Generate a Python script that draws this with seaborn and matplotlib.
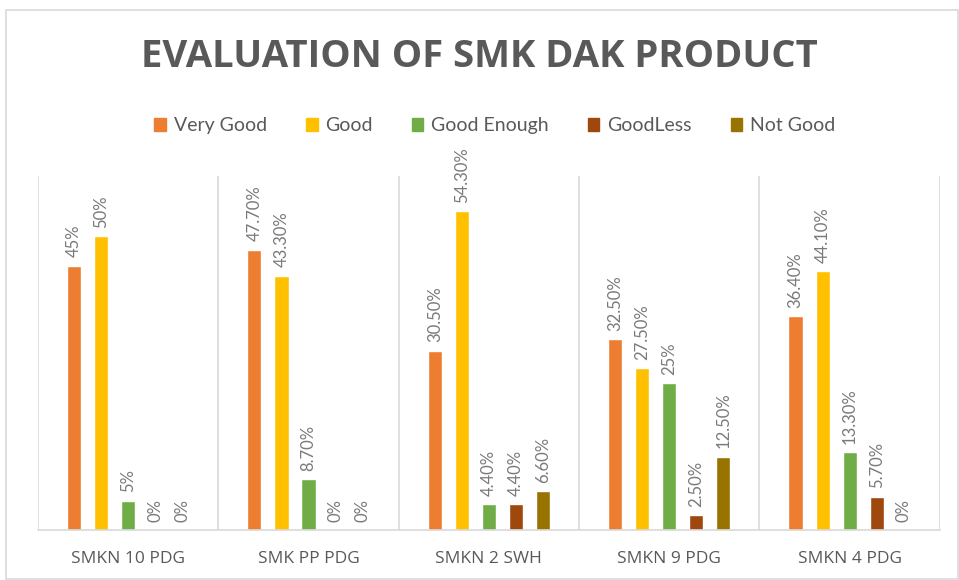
import pandas as pd
import numpy as np
import matplotlib.pyplot as plt
import seaborn as sns
from matplotlib.patches import Rectangle

#----------------------------------
# Data
#----------------------------------
schools = ["SMKN 10 PDG", "SMK PP PDG", "SMKN 2 SWH", "SMKN 9 PDG", "SMKN 4 PDG"]
ratings = ["Very Good", "Good", "Good Enough", "GoodLess", "Not Good"]

very_good   = [45.0, 47.7, 30.5, 32.5, 36.4]
good        = [50.0, 43.3, 54.3, 27.5, 44.1]
good_enough = [5.0, 8.7, 4.4, 25.0, 13.3]
good_less   = [0.0, 0.0, 4.4, 2.5, 5.7]
not_good    = [0.0, 0.0, 6.6, 12.5, 0.0]

label_very_good   = ["45%", "47.70%", "30.50%", "32.50%", "36.40%"]
label_good        = ["50%", "43.30%", "54.30%", "27.50%", "44.10%"]
label_good_enough = ["5%", "8.70%", "4.40%", "25%", "13.30%"]
label_good_less   = ["0%", "0%", "4.40%", "2.50%", "5.70%"]
label_not_good    = ["0%", "0%", "6.60%", "12.50%", "0%"]

colors = ["#ED7D31", "#FFC000", "#70AD47", "#9E480E", "#997300"]

series = [very_good, good, good_enough, good_less, not_good]
labels = [label_very_good, label_good, label_good_enough, label_good_less, label_not_good]

rows = []
for r, vals in zip(ratings, series):
    for s, v in zip(schools, vals):
        rows.append({"School": s, "Rating": r, "Value": v})
df = pd.DataFrame(rows)

#----------------------------------
# Plot
#----------------------------------
sns.set_style("white")
plt.rcParams['font.family'] = ['Lato', 'DejaVu Sans']
grey = "#595959"

fig = plt.figure(figsize=(9.59, 5.8), dpi=100)
ax = fig.add_axes([0.0396, 0.0862, 0.9404, 0.6104])

sns.barplot(data=df, x="School", y="Value", hue="Rating", hue_order=ratings,
            order=schools, palette=colors, width=0.75, gap=0.48,
            saturation=1, legend=False, ax=ax)

for cont, lab in zip(ax.containers, labels):
    ax.bar_label(cont, labels=lab, rotation=90, padding=6,
                 fontsize=12, color="#7a7a7a")

ax.set_ylim(0, 60.25)
ax.set_xlim(-0.5, len(schools) - 0.5)
ax.set_yticks([])
ax.set_xlabel("")
ax.set_ylabel("")
for sp in ["top", "left", "right"]:
    ax.spines[sp].set_visible(False)
ax.spines["bottom"].set_color("#d9d9d9")
ax.spines["bottom"].set_linewidth(1.2)
ax.vlines(np.arange(-0.5, len(schools)), 0, 60.25, color="#d9d9d9", lw=1.2, zorder=0)
ax.tick_params(axis="x", length=0, pad=15)
ax.set_xticks(range(len(schools)))
ax.set_xticklabels(schools, fontsize=12.5, color=grey, family=["Open Sans", "DejaVu Sans"])

# title & legend
fig.text(0.5, 0.901, "EVALUATION OF SMK DAK PRODUCT", ha="center", va="center",
         fontsize=27.5, fontweight="bold", color=grey, family=["Open Sans", "DejaVu Sans"])
handles = [Rectangle((0, 0), 1, 1, color=c) for c in colors]
fig.legend(handles, ratings, loc="center", bbox_to_anchor=(0.516, 0.783), ncol=5,
           frameon=False, fontsize=14, handlelength=0.6, handleheight=0.6,
           handletextpad=0.4, columnspacing=2.0, labelcolor=grey)

# chart border
fig.patches.append(Rectangle((6 / 959, 0.001), 952 / 959, 1 - 10 / 580 - 0.001,
                             transform=fig.transFigure, fill=False,
                             edgecolor="#d9d9d9", lw=1.2))

plt.savefig("out.png", dpi=100)
